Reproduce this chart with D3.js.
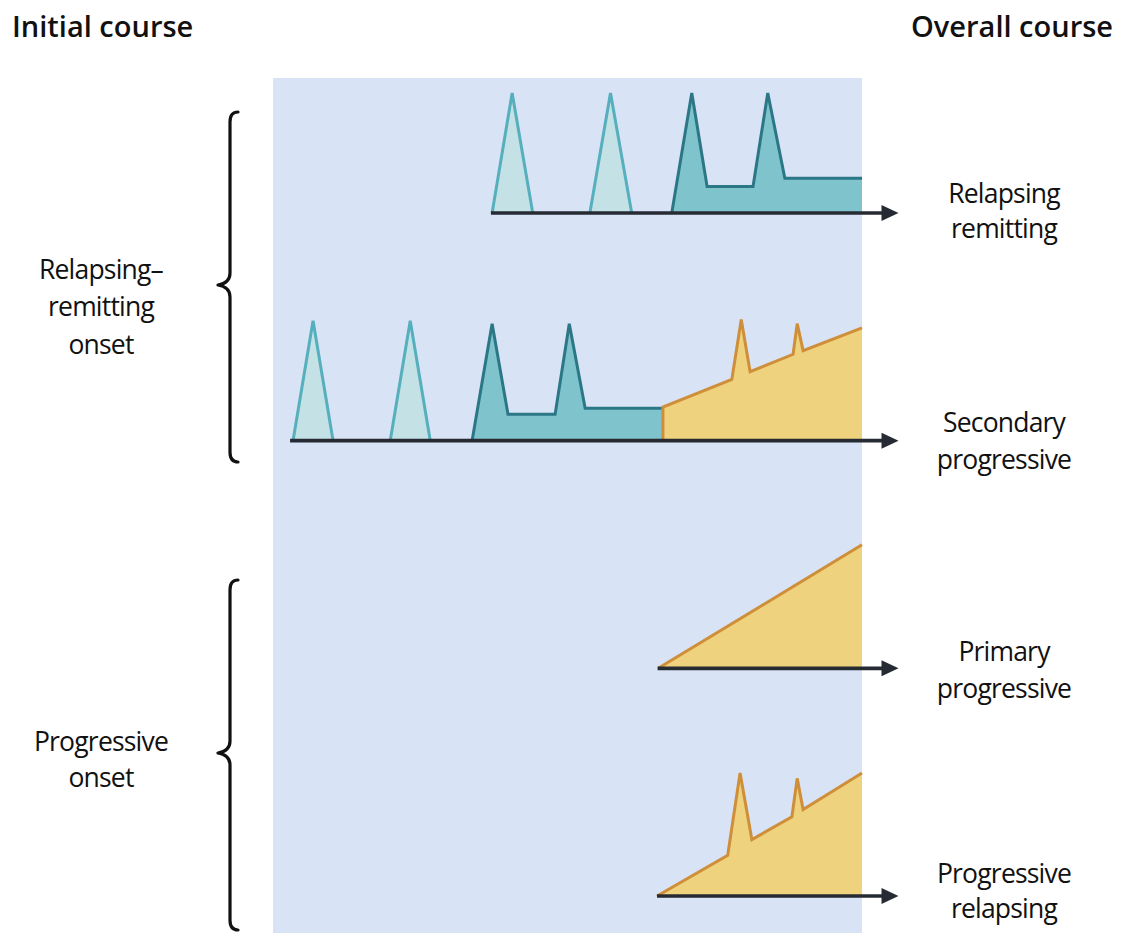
<!DOCTYPE html>
<html>
<head>
<meta charset="utf-8">
<script src="https://cdn.jsdelivr.net/npm/d3@7"></script>
<style>
  html, body { margin: 0; padding: 0; background: #ffffff; }
  svg { display: block; }
  text { font-family: "Open Sans", sans-serif; fill: #111; }
</style>
</head>
<body>
<svg id="chart" width="1126" height="933"></svg>
<script>
// ---------------- DATA ----------------
const rows = ["Relapsing remitting", "Secondary progressive", "Primary progressive", "Progressive relapsing"];
const overallLabels = [["Relapsing", "remitting"], ["Secondary", "progressive"], ["Primary", "progressive"], ["Progressive", "relapsing"]];
const onsetGroups = [
  { lines: ["Relapsing–", "remitting", "onset"], fromRow: 0, toRow: 1 },
  { lines: ["Progressive", "onset"], fromRow: 2, toRow: 3 }
];
const headerLabels = ["Initial course", "Overall course"];
// time (0–100) at which each row's time axis starts
const axisStart = [37, 2.9, 65.3, 65.2];

// fully remitting relapses: [start, peak, end] in time units, peak disability 10
const remittingRelapses = [
  { row: 0, t: [37.2, 40.6, 44.1] },
  { row: 0, t: [53.8, 57.3, 60.9] },
  { row: 1, t: [3.4, 6.8, 10.2] },
  { row: 1, t: [19.9, 23.3, 26.7] }
];
// relapses with residual deficit (time, disability)
const residualCourse = [
  { row: 0, pts: [[67.7, 0], [71.1, 10], [73.7, 2.2], [81.5, 2.2], [84.0, 10], [86.9, 2.9], [100, 2.9]] },
  { row: 1, pts: [[33.8, 0], [37.2, 9.75], [39.9, 2.2], [47.9, 2.2], [50.3, 9.75], [53.0, 2.7], [66.2, 2.7]] }
];
// progressive phases (time, disability)
const progressiveCourse = [
  { row: 1, pts: [[66.2, 0], [66.2, 2.8], [77.9, 5.1], [79.5, 10.1], [81.0, 5.75], [88.3, 7.2], [89.0, 9.75], [90.0, 7.5], [100, 9.4]] },
  { row: 2, pts: [[65.4, 0], [100, 10.3]] },
  { row: 3, pts: [[65.2, 0], [77.2, 3.4], [79.3, 10.25], [81.3, 4.7], [88.1, 6.6], [89.0, 9.8], [90.0, 7.2], [100, 10.25]] }
];

// ---------------- SCALES ----------------
const svg = d3.select("#chart");
const x = d3.scaleLinear().domain([0, 100]).range([273, 862]);
const rowY = d3.scalePoint().domain(rows).range([213, 896]);
const dis = d3.scaleLinear().domain([0, 10]).range([0, 120]);

const colors = {
  panel: "#d8e3f5",
  lightFill: "#c4e1e6", lightStroke: "#55afbd",
  darkFill: "#7fc3cc", darkStroke: "#2c7786",
  yellowFill: "#efd27d", yellowStroke: "#cf8f3a",
  axis: "#262b33"
};

// background panel
svg.append("rect")
  .attr("x", x(0)).attr("y", 78)
  .attr("width", x(100) - x(0)).attr("height", 933 - 78)
  .attr("fill", colors.panel);

function areaFor(row) {
  const b = rowY(rows[row]);
  return d3.area().x(d => x(d[0])).y0(b).y1(d => b - dis(d[1]));
}
function lineFor(row) {
  const b = rowY(rows[row]);
  return d3.line().x(d => x(d[0])).y(d => b - dis(d[1]));
}

// remitting relapses
remittingRelapses.forEach(r => {
  const pts = [[r.t[0], 0], [r.t[1], 10], [r.t[2], 0]];
  svg.append("path").attr("d", areaFor(r.row)(pts)).attr("fill", colors.lightFill);
  svg.append("path").attr("d", lineFor(r.row)(pts)).attr("fill", "none")
    .attr("stroke", colors.lightStroke).attr("stroke-width", 3).attr("stroke-linejoin", "miter");
});
// residual relapses
residualCourse.forEach(r => {
  const last = r.pts[r.pts.length - 1];
  svg.append("path").attr("d", areaFor(r.row)(r.pts.concat([[last[0], 0]]))).attr("fill", colors.darkFill);
  svg.append("path").attr("d", lineFor(r.row)(r.pts)).attr("fill", "none")
    .attr("stroke", colors.darkStroke).attr("stroke-width", 3).attr("stroke-linejoin", "miter");
});
// progressive
progressiveCourse.forEach(r => {
  const last = r.pts[r.pts.length - 1];
  svg.append("path").attr("d", areaFor(r.row)(r.pts.concat([[last[0], 0]]))).attr("fill", colors.yellowFill);
  svg.append("path").attr("d", lineFor(r.row)(r.pts)).attr("fill", "none")
    .attr("stroke", colors.yellowStroke).attr("stroke-width", 3).attr("stroke-linejoin", "miter");
});

// time axes with arrows
rows.forEach((name, i) => {
  const b = rowY(name);
  svg.append("line")
    .attr("x1", x(axisStart[i])).attr("x2", x(104))
    .attr("y1", b).attr("y2", b)
    .attr("stroke", colors.axis).attr("stroke-width", 3.6);
  const tip = x(106.2);
  svg.append("path")
    .attr("d", `M${tip},${b} L${tip - 17},${b - 8} L${tip - 17},${b + 8} Z`)
    .attr("fill", colors.axis);
});

// headers
svg.append("text").attr("x", 12).attr("y", 37)
  .attr("font-size", 29).attr("font-weight", 600).text(headerLabels[0]);
svg.append("text").attr("x", 1113).attr("y", 37).attr("text-anchor", "end")
  .attr("font-size", 29).attr("font-weight", 600).text(headerLabels[1]);

// overall course labels
const labelOffsets = [[-10, 25], [-9, 28], [-7, 30], [-13, 22]];
overallLabels.forEach((lines, i) => {
  const b = rowY(rows[i]);
  lines.forEach((t, j) => {
    svg.append("text").attr("x", 1004).attr("y", b + labelOffsets[i][j])
      .attr("text-anchor", "middle").attr("font-size", 26.5).attr("font-weight", 500)
      .attr("letter-spacing", -0.8)
      .text(t);
  });
});

// braces and onset labels
function bracePath(xv, top, bottom, mid, depth) {
  const xe = xv + 8;
  const xt = xv - depth;
  return `M${xe},${top} Q${xv},${top} ${xv},${top + 10}` +
         ` L${xv},${mid - 12} Q${xv},${mid - 2} ${xt},${mid}` +
         ` Q${xv},${mid + 2} ${xv},${mid + 12}` +
         ` L${xv},${bottom - 10} Q${xv},${bottom} ${xe},${bottom}`;
}
const braceSpans = [[112, 462, 285], [580, 930, 753]];
const onsetLineStarts = [[279, 316, 354], [751, 787]];
onsetGroups.forEach((g, i) => {
  const s = braceSpans[i];
  svg.append("path").attr("d", bracePath(230, s[0], s[1], s[2], 12))
    .attr("fill", "none").attr("stroke", "#111").attr("stroke-width", 3.2)
    .attr("stroke-linejoin", "round").attr("stroke-linecap", "round");
  g.lines.forEach((t, j) => {
    svg.append("text").attr("x", 101).attr("y", onsetLineStarts[i][j])
      .attr("text-anchor", "middle").attr("font-size", 26.5).attr("font-weight", 500)
      .attr("letter-spacing", -0.8)
      .text(t);
  });
});
</script>
</body>
</html>
